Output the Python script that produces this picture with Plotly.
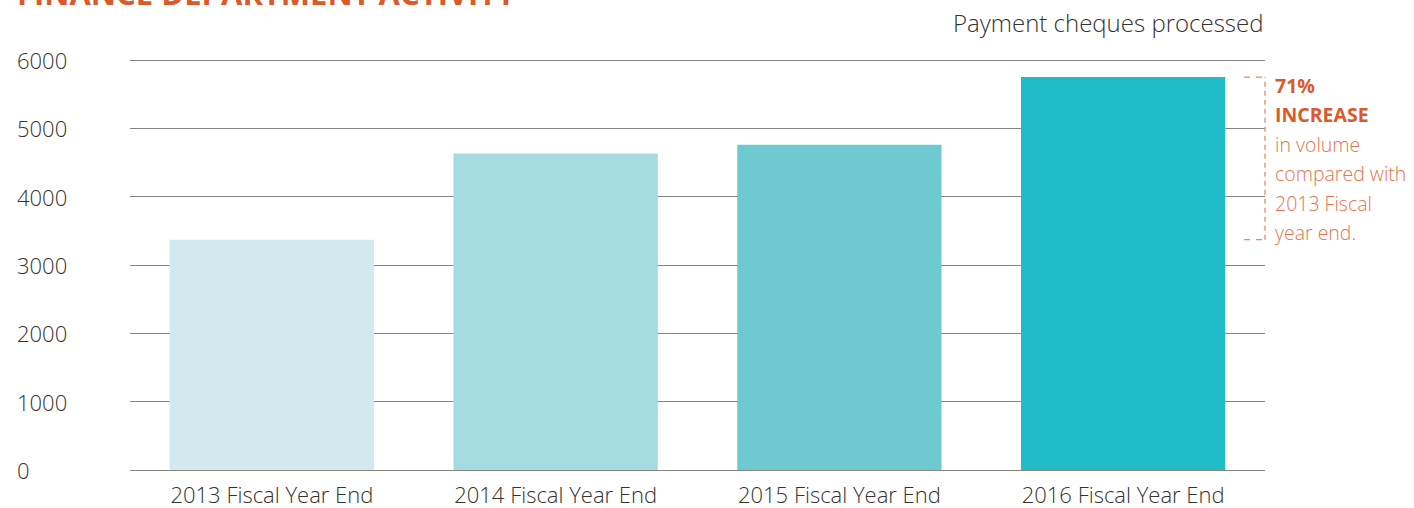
import plotly.graph_objects as go

categories = ["2013 Fiscal Year End", "2014 Fiscal Year End", "2015 Fiscal Year End", "2016 Fiscal Year End"]
cheques = [3370, 4630, 4760, 5750]
bar_colors = ["#d2eaee", "#a3dbe0", "#6fc9d0", "#20bdc8"]
y_ticks = [0, 1000, 2000, 3000, 4000, 5000, 6000]
note_lines = ["71%", "INCREASE", "in volume", "compared with", "2013 Fiscal", "year end."]

W, H = 1414, 508
PAD = 2
L, R, T, B = 130, 149, 60 - PAD, 38 - PAD
PW, PH = W - L - R, H - T - B
YPAD = PAD * 6000 / (PH - 2 * PAD)

def px_x(px):
    return (px - L) / PW

def px_y(py):
    return (H - B - py) / PH

TEXT = "#36322f"
ORANGE = "#d95b2b"
ORANGE_LIGHT = "#e0764f"
FONT = "Open Sans"

fig = go.Figure()
fig.add_trace(go.Bar(
    x=categories, y=cheques,
    marker=dict(color=bar_colors, line=dict(width=0)),
    hoverinfo="skip",
))

annotations = []
for v in y_ticks:
    annotations.append(dict(
        x=px_x(15), xref="paper", xanchor="left",
        y=v, yref="y", yanchor="middle",
        text=str(v), showarrow=False,
        font=dict(family=FONT, size=22, color=TEXT, weight=300),
    ))

annotations.append(dict(
    x=px_x(15), xref="paper", xanchor="left",
    y=px_y(-7), yref="paper", yanchor="middle",
    text="<b>FINANCE DEPARTMENT ACTIVITY</b>", showarrow=False,
    font=dict(family=FONT, size=31, color=ORANGE),
))

annotations.append(dict(
    x=px_x(1266), xref="paper", xanchor="right",
    y=px_y(22), yref="paper", yanchor="middle",
    text="Payment cheques processed", showarrow=False,
    font=dict(family=FONT, size=24, color=TEXT, weight=300),
))

line_y = [86, 115, 144, 173, 203, 232]
for i, (t, py) in enumerate(zip(note_lines, line_y)):
    bold = i < 2
    annotations.append(dict(
        x=px_x(1273), xref="paper", xanchor="left",
        y=px_y(py), yref="paper", yanchor="middle",
        text=f"<b>{t}</b>" if bold else t, showarrow=False,
        font=dict(family=FONT, size=19.5, color=ORANGE if bold else ORANGE_LIGHT,
                  weight=None if bold else 300),
    ))

shapes = []
dash_col = "#e58a68"
shapes.append(dict(type="line", xref="paper", yref="y",
                   x0=px_x(1265), x1=px_x(1265), y0=cheques[0], y1=cheques[-1],
                   line=dict(color=dash_col, width=1.3, dash="5px,4px")))
for v in (cheques[0], cheques[-1]):
    shapes.append(dict(type="line", xref="paper", yref="y",
                       x0=px_x(1244), x1=px_x(1265), y0=v, y1=v,
                       line=dict(color=dash_col, width=1.3, dash="6px,6px")))

fig.update_layout(
    width=W, height=H,
    margin=dict(l=L, r=R, t=T, b=B, pad=0),
    paper_bgcolor="white", plot_bgcolor="white",
    showlegend=False,
    bargap=0.28,
    xaxis=dict(
        range=[-0.5, 3.5], showgrid=False, zeroline=False, showline=False,
        ticks="", tickfont=dict(family=FONT, size=22, color=TEXT, weight=300),
        ticklabelstandoff=8, automargin=False,
        fixedrange=True,
    ),
    yaxis=dict(
        range=[-YPAD, 6000 + YPAD], tickvals=y_ticks, showticklabels=False,
        showgrid=True, gridcolor="#8a847f", gridwidth=1,
        zeroline=False, showline=False, ticks="", fixedrange=True,
        automargin=False,
    ),
    annotations=annotations,
    shapes=shapes,
)

fig.write_html("out.html", config={"displayModeBar": False},
               post_script="document.body.style.margin='0';document.body.style.overflow='hidden';")
